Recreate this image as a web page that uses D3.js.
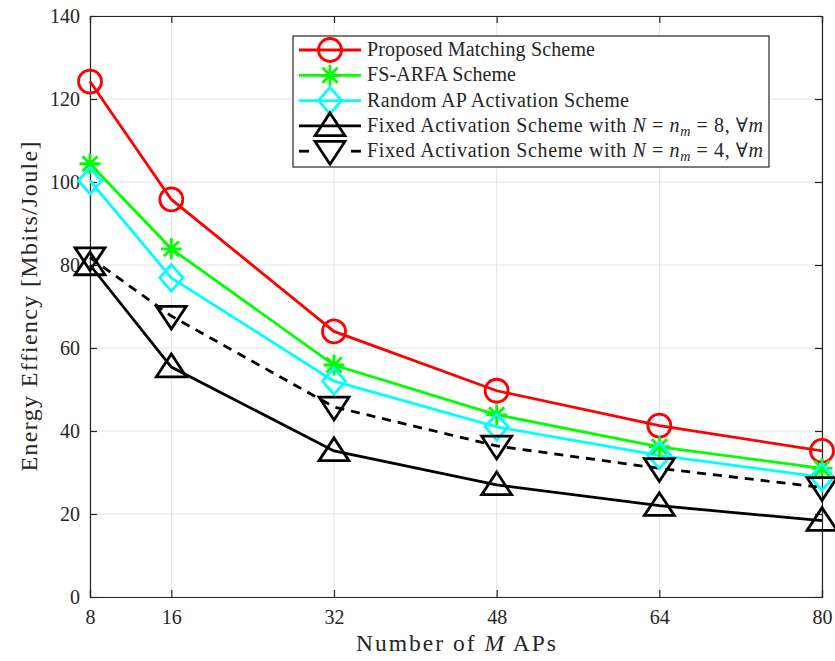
<!DOCTYPE html>
<html>
<head>
<meta charset="utf-8">
<script src="https://cdn.jsdelivr.net/npm/d3@7"></script>
<style>
  body { margin: 0; background: #fff; }
  svg text { font-family: "Liberation Serif", "DejaVu Serif", serif; fill: #262626; }
</style>
</head>
<body>
<svg width="835" height="661"></svg>
<script>
  const apCounts = [8, 16, 32, 48, 64, 80];
  const proposed = [124.2, 95.8, 64.0, 49.7, 41.3, 35.2];
  const fsArfa = [104.4, 83.9, 55.9, 43.9, 36.2, 31.0];
  const randomAP = [100.3, 76.9, 52.0, 41.0, 34.1, 28.9];
  const fixed8 = [80.0, 55.4, 35.2, 27.0, 22.0, 18.4];
  const fixed4 = [81.8, 67.7, 45.8, 36.4, 31.0, 26.4];
  const yTicks = [0, 20, 40, 60, 80, 100, 120, 140];

  const series = [
    { name: 'Proposed Matching Scheme', values: proposed, color: '#ff0000', marker: 'circle', dash: null, len: 228 },
    { name: 'FS-ARFA Scheme', values: fsArfa, color: '#00ff00', marker: 'star', dash: null, len: 149 },
    { name: 'Random AP Activation Scheme', values: randomAP, color: '#00ffff', marker: 'diamond', dash: null, len: 262 },
    { name: 'fixed8', values: fixed8, color: '#000000', marker: 'up', dash: null, n: '8', len: 396 },
    { name: 'fixed4', values: fixed4, color: '#000000', marker: 'down', dash: '9,7', n: '4', len: 396 }
  ];

  const svg = d3.select('svg');
  const margin = { left: 90, right: 13, top: 16, bottom: 64 };
  const W = 835, H = 661;

  const x = d3.scaleLinear().domain([8, 80]).range([margin.left, W - margin.right]);
  const y = d3.scaleLinear().domain([0, 140]).range([H - margin.bottom, margin.top]);

  // grid
  const grid = svg.append('g');
  grid.selectAll('.gx').data(apCounts).enter().append('line')
    .attr('x1', d => x(d)).attr('x2', d => x(d))
    .attr('y1', y(0)).attr('y2', y(140))
    .attr('stroke', '#e3e3e3').attr('stroke-width', 1);
  grid.selectAll('.gy').data(yTicks).enter().append('line')
    .attr('x1', x(8)).attr('x2', x(80))
    .attr('y1', d => y(d)).attr('y2', d => y(d))
    .attr('stroke', '#e3e3e3').attr('stroke-width', 1);

  // axes, box with inward ticks
  const axisCol = '#262626';
  svg.append('g').attr('transform', `translate(0,${y(0)})`)
    .call(d3.axisBottom(x).tickValues(apCounts).tickSize(-7).tickPadding(13).tickFormat(d3.format('d')));
  svg.append('g').attr('transform', `translate(${x(8)},0)`)
    .call(d3.axisLeft(y).tickValues(yTicks).tickSize(-7).tickPadding(10));
  svg.append('g').attr('transform', `translate(0,${y(140)})`)
    .call(d3.axisTop(x).tickValues(apCounts).tickSize(-7).tickFormat(''));
  svg.append('g').attr('transform', `translate(${x(80)},0)`)
    .call(d3.axisRight(y).tickValues(yTicks).tickSize(-7).tickFormat(''));
  svg.selectAll('.domain, .tick line').attr('stroke', axisCol).attr('stroke-width', 1.2);
  svg.selectAll('.tick text').style('font-size', '20px').attr('fill', axisCol);

  // labels
  svg.append('text').attr('x', (x(8) + x(80)) / 2).attr('y', 651)
    .attr('text-anchor', 'middle').style('font-size', '23.5px')
    .attr('textLength', 200).attr('lengthAdjust', 'spacing')
    .html('Number of <tspan font-style="italic">M</tspan> APs');
  svg.append('text')
    .attr('transform', `translate(37,${(y(0) + y(140)) / 2}) rotate(-90)`)
    .attr('text-anchor', 'middle').style('font-size', '24px')
    .attr('textLength', 330).attr('lengthAdjust', 'spacing')
    .text('Energy Effiency [Mbits/Joule]');

  // markers
  const drawMarker = (g, type, color, s) => {
    let d;
    if (type === 'circle') {
      g.append('circle').attr('r', s).attr('fill', 'none').attr('stroke', color).attr('stroke-width', 2.8);
      return;
    } else if (type === 'diamond') {
      d = `M0,${-s * 1.15}L${s},0L0,${s * 1.15}L${-s},0Z`;
    } else if (type === 'star') {
      const a = s * 0.95, b = a * 0.72;
      d = `M0,${-a}V${a}M${-a},0H${a}M${-b},${-b}L${b},${b}M${-b},${b}L${b},${-b}`;
    } else if (type === 'up') {
      d = `M0,${-s}L${s * 1.15},${s * 0.75}L${-s * 1.15},${s * 0.75}Z`;
    } else {
      d = `M0,${s}L${s * 1.15},${-s * 0.75}L${-s * 1.15},${-s * 0.75}Z`;
    }
    g.append('path').attr('d', d).attr('fill', 'none').attr('stroke', color).attr('stroke-width', 2.8);
  };

  const line = d3.line().x((d, i) => x(apCounts[i])).y(d => y(d));
  const sizes = { circle: 11.5, star: 11, diamond: 11.5, up: 13, down: 13 };

  series.forEach(s => {
    svg.append('path').datum(s.values)
      .attr('d', line)
      .attr('fill', 'none')
      .attr('stroke', s.color)
      .attr('stroke-width', 2.8)
      .attr('stroke-dasharray', s.dash);
  });
  series.forEach(s => {
    s.values.forEach((v, i) => {
      const g = svg.append('g').attr('transform', `translate(${x(apCounts[i])},${y(v)})`);
      drawMarker(g, s.marker, s.color, sizes[s.marker]);
    });
  });

  // legend
  const lg = svg.append('g').attr('transform', 'translate(293,36)');
  lg.append('rect').attr('width', 476).attr('height', 131)
    .attr('fill', '#fff').attr('stroke', axisCol).attr('stroke-width', 1.2);
  series.forEach((s, i) => {
    const row = lg.append('g').attr('transform', `translate(0,${14 + i * 25.3})`);
    if (s.dash) {
      row.append('line').attr('x1', 6).attr('x2', 16).attr('stroke', s.color).attr('stroke-width', 2.8);
      row.append('line').attr('x1', 58).attr('x2', 68).attr('stroke', s.color).attr('stroke-width', 2.8);
    } else {
      row.append('line').attr('x1', 6).attr('x2', 68).attr('stroke', s.color).attr('stroke-width', 2.8);
    }
    const mg = row.append('g').attr('transform', 'translate(37,0)');
    drawMarker(mg, s.marker, s.color, sizes[s.marker]);
    const t = row.append('text').attr('x', 74).attr('y', 6).style('font-size', '20px')
      .attr('textLength', s.len).attr('lengthAdjust', 'spacing');
    if (s.n) {
      t.html(`Fixed Activation Scheme with <tspan font-style="italic">N</tspan> = <tspan font-style="italic">n</tspan><tspan font-style="italic" font-size="14px" dy="4">m</tspan><tspan dy="-4"> = ${s.n}, ∀</tspan><tspan font-style="italic">m</tspan>`);
    } else {
      t.text(s.name);
    }
  });
</script>
</body>
</html>
